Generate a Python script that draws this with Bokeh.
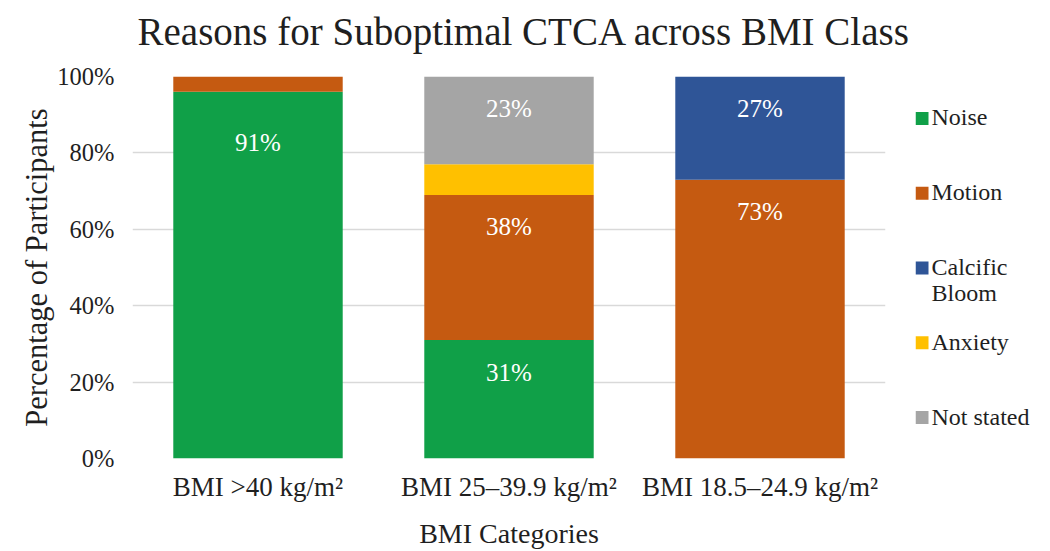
from bokeh.plotting import figure
from bokeh.layouts import row
from bokeh.models import Range1d, FactorRange, FixedTicker, PrintfTickFormatter, ColumnDataSource, Title
from bokeh.core.properties import value
from bokeh.embed import file_html
from bokeh.resources import INLINE

# ---- data ----
title_text = "Reasons for Suboptimal CTCA across BMI Class"
categories = ["BMI >40 kg/m²", "BMI 25–39.9 kg/m²", "BMI 18.5–24.9 kg/m²"]
series = ["Noise", "Motion", "Calcific Bloom", "Anxiety", "Not stated"]
noise = [96, 31, 0]
motion = [4, 38, 73]
calcific = [0, 0, 27]
anxiety = [0, 8, 0]
not_stated = [0, 23, 0]
colors = ["#10a048", "#c55a11", "#2f5597", "#ffc000", "#a5a5a5"]
legend_labels = ["Noise", "Motion", "Calcific\nBloom", "Anxiety", "Not stated"]
y_ticks = [0, 20, 40, 60, 80, 100]

# data labels: (category index, series, printed value)
label_cat = [0, 1, 1, 1, 2, 2]
label_series = ["Noise", "Noise", "Motion", "Not stated", "Motion", "Calcific Bloom"]
label_value = [91, 31, 38, 23, 73, 27]

FONT = "Liberation Serif"
TXT = "#1f1f1f"

data = {"cat": categories, "Noise": noise, "Motion": motion,
        "Calcific Bloom": calcific, "Anxiety": anxiety, "Not stated": not_stated}
src = ColumnDataSource(data)

FRAME_TOP, FRAME_BOTTOM = 76, 459
MAIN_W = 915

p = figure(width=MAIN_W, height=551, x_range=FactorRange(*categories, range_padding=0),
           y_range=Range1d(0, 100), output_backend="svg", toolbar_location=None,
           min_border_left=132, min_border_right=30, min_border_top=FRAME_TOP, min_border_bottom=10)

p.vbar_stack(series, x="cat", width=0.675, source=src, color=colors, line_color=None)

# label positions: bottom of segment + printed value
lx, ly, lt = [], [], []
for ci, s, v in zip(label_cat, label_series, label_value):
    bottom = sum(data[k][ci] for k in series[:series.index(s)])
    lx.append(categories[ci])
    ly.append(bottom + v)
    lt.append(f"{v}%")
p.text(x=lx, y=ly, text=lt, text_color="white", text_font=value(FONT),
       text_font_size="25px", text_align="center", text_baseline="middle", y_offset=32)

# empty spacer between the title and the frame
p.add_layout(Title(text=" ", text_font_size="15px", standoff=0), "above")

p.title.text = title_text
p.title.text_font = FONT
p.title.text_font_size = "39px"
p.title.text_font_style = "normal"
p.title.text_color = TXT
p.title.align = "left"
p.title.offset = 5
p.title.standoff = 10

p.outline_line_color = None
p.xgrid.grid_line_color = None
p.ygrid.grid_line_color = "#d9d9d9"
p.ygrid.grid_line_width = 1.5
p.yaxis.ticker = FixedTicker(ticks=y_ticks)
p.yaxis.formatter = PrintfTickFormatter(format="%d%%")

for ax in (p.xaxis, p.yaxis):
    ax.axis_line_color = None
    ax.major_tick_line_color = None
    ax.minor_tick_line_color = None
    ax.major_tick_out = 0
    ax.major_tick_in = 0
    ax.major_label_text_font = FONT
    ax.major_label_text_color = TXT
    ax.axis_label_text_font = FONT
    ax.axis_label_text_font_style = "normal"
    ax.axis_label_text_color = TXT

p.yaxis.axis_label = "Percentage of Participants"
p.yaxis.major_label_text_font_size = "24.5px"
p.yaxis.axis_label_text_font_size = "30.5px"
p.yaxis.major_label_standoff = 18
p.yaxis.axis_label_standoff = 0

p.xaxis.axis_label = "BMI Categories"
p.xaxis.major_label_text_font_size = "27px"
p.xaxis.axis_label_text_font_size = "28px"
p.xaxis.major_label_standoff = 13
p.xaxis.axis_label_standoff = 13

# ---- legend panel (its frame is aligned with the main frame by the row layout) ----
LEG_W = 1050 - MAIN_W
lg = figure(width=LEG_W, height=551, x_range=Range1d(MAIN_W, 1050), y_range=Range1d(FRAME_BOTTOM, FRAME_TOP),
            output_backend="svg", toolbar_location=None, min_border=0)
lg.axis.visible = False
lg.grid.grid_line_color = None
lg.outline_line_color = None
ys = [118 + 75 * i for i in range(len(series))]
lg.scatter(x=[921.5] * len(series), y=ys, marker="square", size=13, color=colors, line_color=None)
lg.text(x=[931] * len(series), y=[y - 14 for y in ys], text=legend_labels, text_font=value(FONT),
        text_font_size="24px", text_color=TXT, text_baseline="top", text_line_height=1.0)

layout = row(p, lg)
open("out.html", "w").write(file_html(layout, INLINE))
